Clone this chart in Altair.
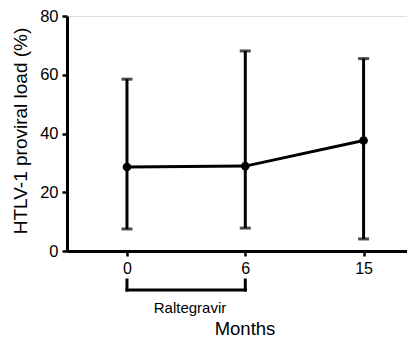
import altair as alt
import pandas as pd

months = ["0", "6", "15"]
mean = [28.6, 28.9, 37.6]
lower = [7.5, 7.8, 4.1]
upper = [58.5, 68.1, 65.5]
treatment = "Raltegravir"
treat_start, treat_end = 0, 1  # indices into months
y_title = "HTLV-1 proviral load (%)"
x_title = "Months"

FONT = "Liberation Sans"

df = pd.DataFrame({
    "pos": list(range(len(months))),
    "month": months,
    "mean": mean,
    "lower": lower,
    "upper": upper,
})
tr = pd.DataFrame({"start": [treat_start], "end": [treat_end], "label": [treatment]})
arms = pd.DataFrame({"p": [treat_start, treat_end]})

label_expr = "[" + ",".join(f"'{m}'" for m in months) + "][datum.value]"

xscale = alt.Scale(domain=[-0.507, 2.367], nice=False, zero=False)
yscale = alt.Scale(domain=[0, 80], nice=False)

x_enc = alt.X("pos:Q", scale=xscale, axis=alt.Axis(
    values=list(range(len(months))), labelExpr=label_expr, title=None, grid=False,
    domainColor="black", domainWidth=3, tickColor="black", tickWidth=2.5, tickSize=5,
    labelFont=FONT, labelFontSize=16, labelColor="black", labelPadding=4, labelFlush=False))
y_enc = alt.Y("mean:Q", scale=yscale, axis=alt.Axis(
    values=[0, 20, 40, 60, 80], title=None, grid=False,
    domainColor="black", domainWidth=3, tickColor="black", tickWidth=2.5, tickSize=5,
    labelFont=FONT, labelFontSize=16.5, labelColor="black", labelPadding=4))

base = alt.Chart(df)

bars = base.mark_rule(color="black", strokeWidth=3).encode(
    x=x_enc, y=alt.Y("lower:Q", scale=yscale), y2="upper:Q")
cap_hi = base.mark_tick(color="black", thickness=3, size=11, orient="horizontal").encode(
    x="pos:Q", y=alt.Y("upper:Q", scale=yscale))
cap_lo = base.mark_tick(color="black", thickness=3, size=11, orient="horizontal").encode(
    x="pos:Q", y=alt.Y("lower:Q", scale=yscale))
line = base.mark_line(color="black", strokeWidth=3).encode(x="pos:Q", y=y_enc, order="pos:Q")
pts = base.mark_point(filled=True, color="black", size=75, opacity=1).encode(x="pos:Q", y="mean:Q")

bracket = alt.Chart(tr).mark_rule(color="black", strokeWidth=3, strokeCap="square").encode(
    x="start:Q", x2="end:Q", y=alt.value(274))
arm_rules = alt.Chart(arms).mark_rule(color="black", strokeWidth=3, strokeCap="square").encode(
    x="p:Q", y=alt.value(264), y2=alt.value(274))
tr_text = alt.Chart(tr).mark_text(font=FONT, fontSize=15, color="black", baseline="alphabetic",
                                  align="center").encode(
    x=alt.value(123), y=alt.value(296.5), text="label:N")
xt = alt.Chart(pd.DataFrame({"t": [x_title]})).mark_text(
    font=FONT, fontSize=18.5, color="black", baseline="alphabetic", align="center").encode(
    x=alt.value(178), y=alt.value(318.5), text="t:N")
yt = alt.Chart(pd.DataFrame({"t": [y_title]})).mark_text(
    font=FONT, fontSize=19, color="black", baseline="alphabetic", align="center", angle=270).encode(
    x=alt.value(-40), y=alt.value(115), text="t:N")

chart = alt.layer(bars, cap_hi, cap_lo, line, pts, bracket, arm_rules, tr_text, xt, yt).properties(
    width=340, height=235,
    autosize=alt.AutoSizeParams(type="none"),
    padding={"left": 59, "top": 8, "right": 0, "bottom": 87},
).configure_view(stroke=None).configure(background="white")

chart.save("out.html", embed_options={"renderer": "svg", "actions": False})
